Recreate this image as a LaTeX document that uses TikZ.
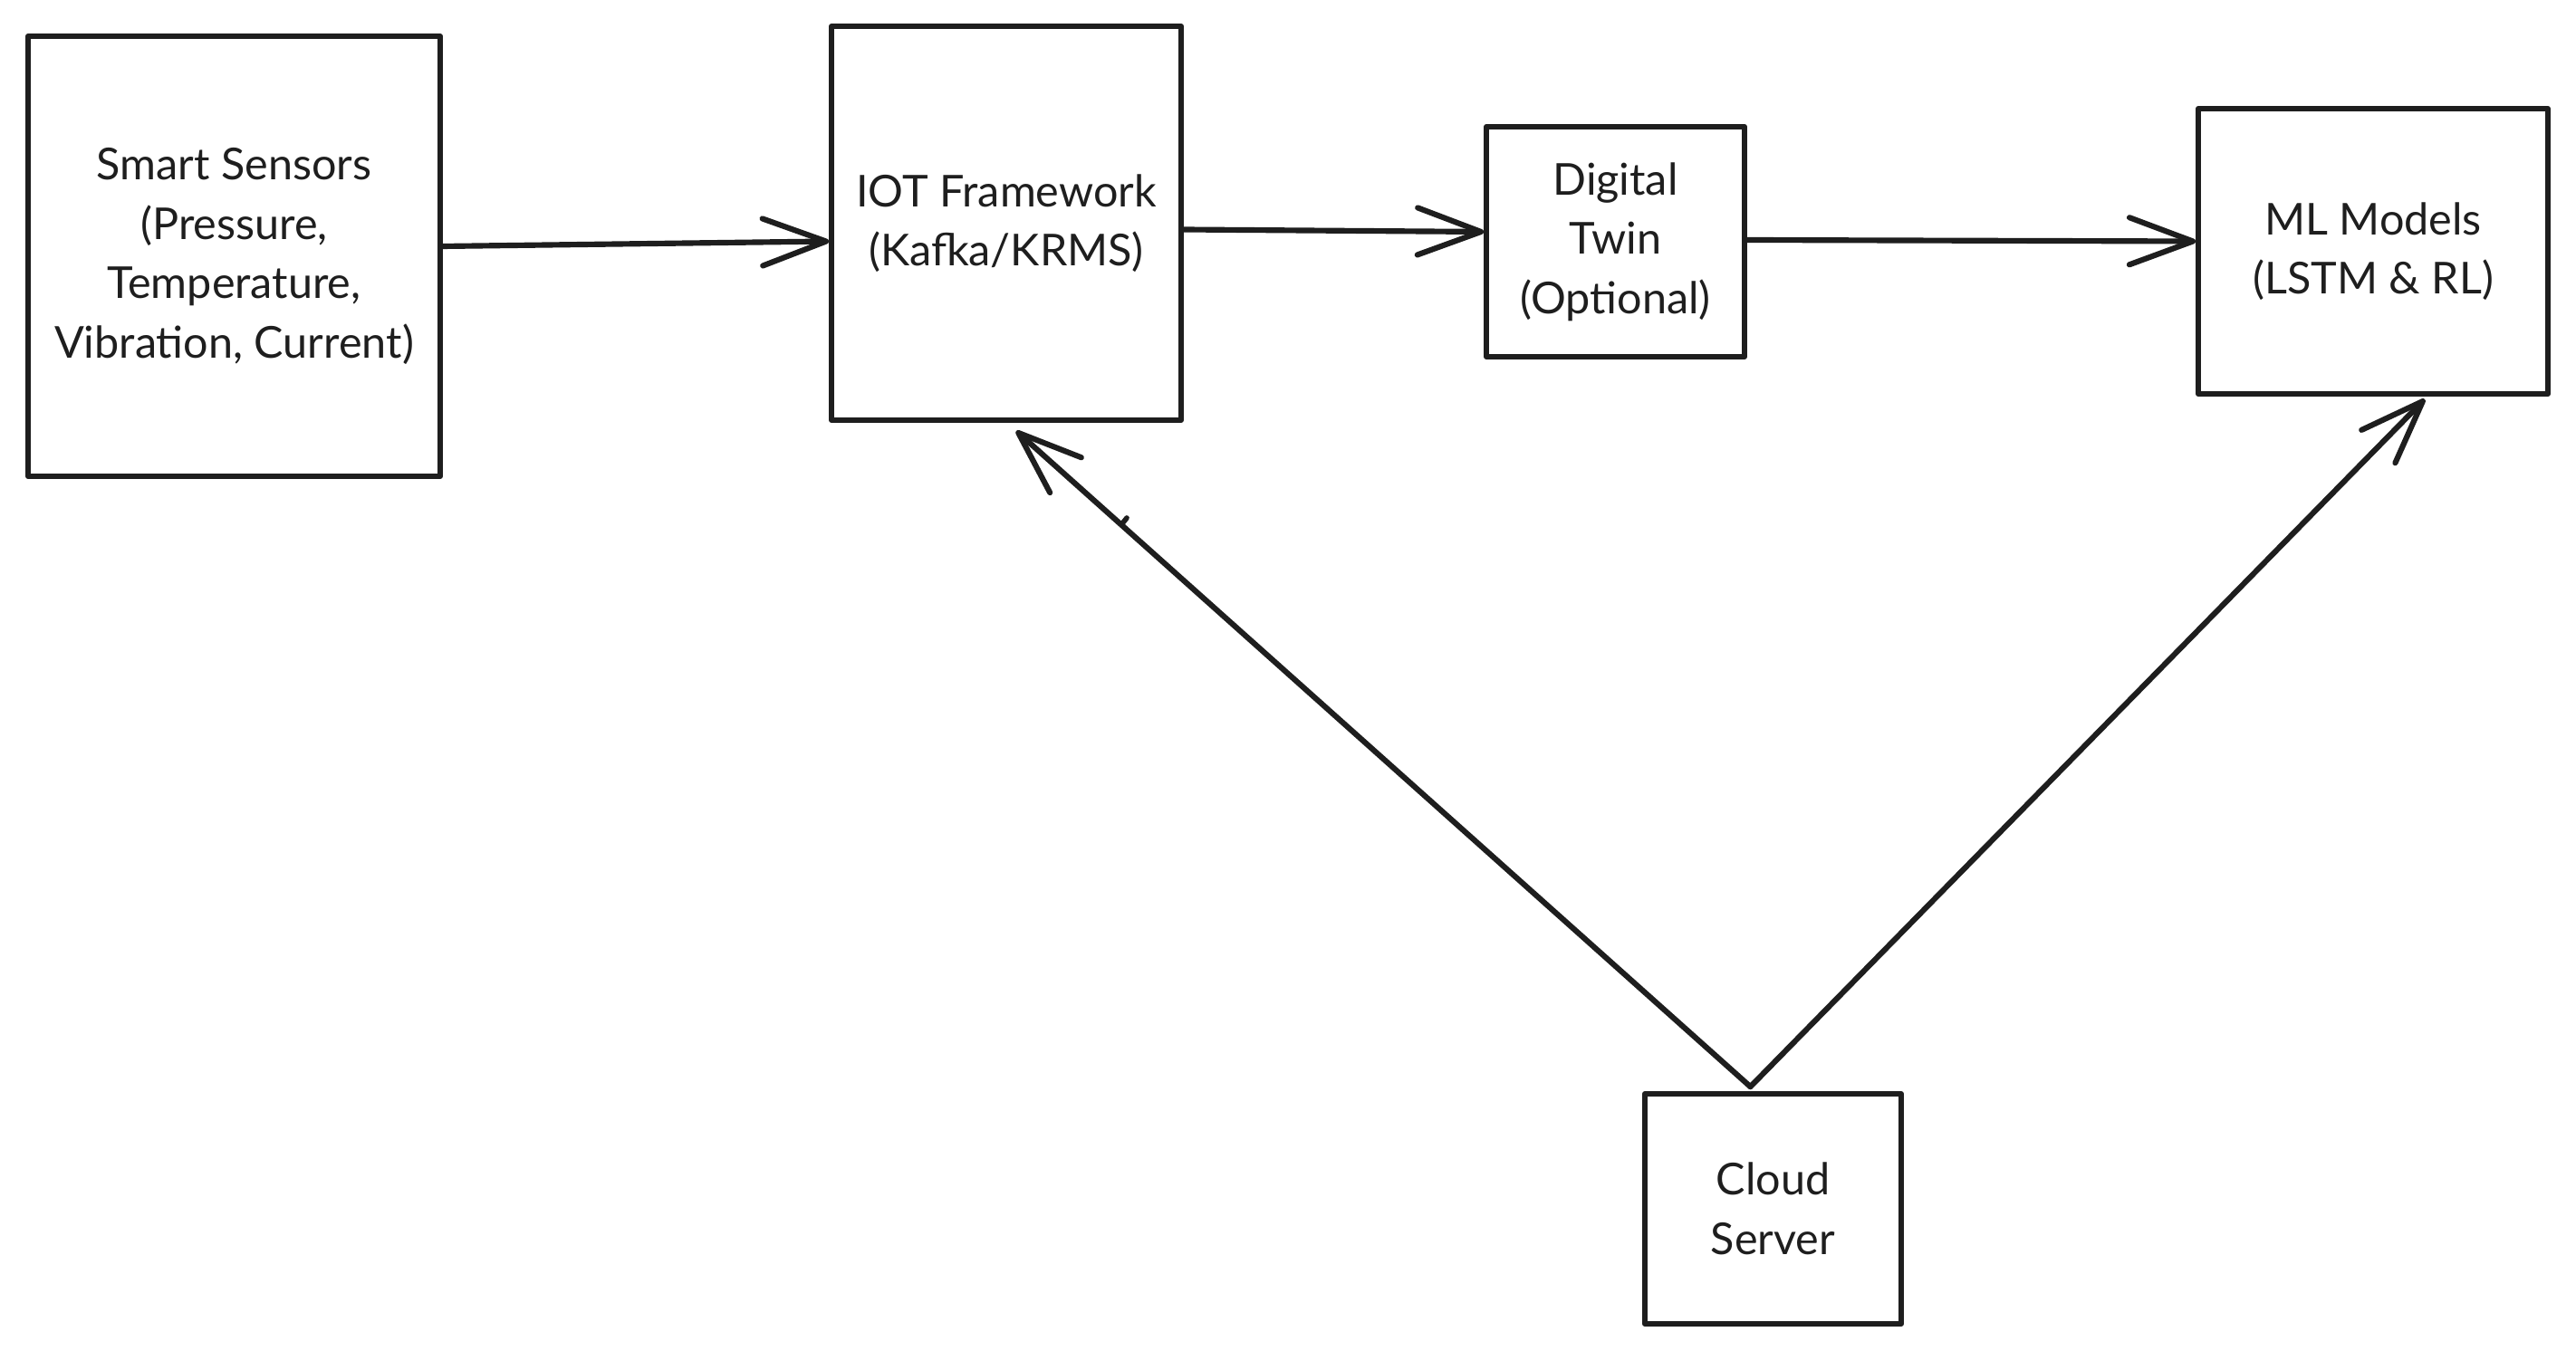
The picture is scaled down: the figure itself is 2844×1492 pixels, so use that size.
\documentclass[tikz,border=0pt]{standalone}
\usepackage{fontspec}
\setmainfont{Lato}
\usetikzlibrary{arrows.meta,calc}
\definecolor{ink}{HTML}{1E1E1E}
\begin{document}
\begin{tikzpicture}[x=0.01cm,y=-0.01cm,
  box/.style={draw=ink,line width=1.6pt,inner sep=0pt,align=center,
    text=ink,font=\fontsize{13.8}{18.6}\selectfont,line join=round},
  flow/.style={draw=ink,line width=1.75pt,line cap=round,line join=round,
    -{Straight Barb[length=0.7cm,width=0.52cm,line cap=round,line join=round]}}]
  \useasboundingbox[fill=white] (0,0) rectangle (2844,1492);

  % blocks
  \node[box] (sens) at (258.5,283) [minimum width=4.55cm,minimum height=4.86cm]
    {Smart Sensors\\(Pressure,\\Temperature,\\Vibration, Current)};
  \node[box] (iot) at (1111,246.5) [minimum width=3.86cm,minimum height=4.35cm]
    {IOT Framework\\(Kafka/KRMS)};
  \node[box] (dt) at (1783.5,267) [minimum width=2.85cm,minimum height=2.54cm]
    {Digital\\Twin\\(Optional)};
  \node[box] (ml) at (2620,277.5) [minimum width=3.86cm,minimum height=3.15cm]
    {ML Models\\(LSTM \& RL)};
  \node[box] (cloud) at (1957.5,1335) [minimum width=2.83cm,minimum height=2.54cm]
    {Cloud\\Server};

  % data flow
  \draw[flow] ($(sens.east)+(0,-11)$) -- ($(iot.west)+(0,20)$);
  \draw[flow] ($(iot.east)+(0,7)$) -- ($(dt.west)+(0,-11)$);
  \draw[flow] ($(dt.east)+(0,-2)$) -- ($(ml.west)+(0,-11)$);
  \coordinate (up) at ($(cloud.north)+(-25,-5)$);
  \draw[flow] (up) -- ($(iot.south)+(11,9)$);
  \draw[flow] (up) -- ($(ml.south)+(57,3)$);

  % small stray tick on the return line
  \draw[ink,line width=1.6pt,line cap=round] (1240,577) -- (1244,572);
\end{tikzpicture}
\end{document}
